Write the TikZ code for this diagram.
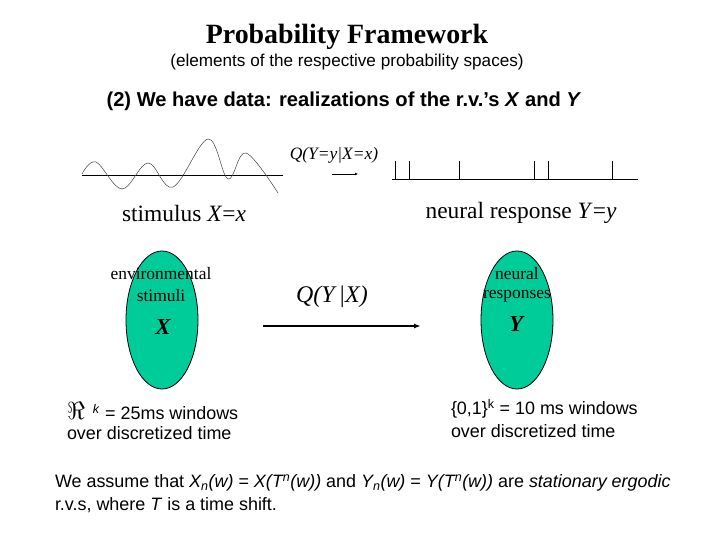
\documentclass[tikz,border=0pt]{standalone}
\usepackage{fontspec}
\setmainfont{Liberation Serif}
\setsansfont{Liberation Sans}
\usetikzlibrary{shapes.geometric,arrows.meta}
\definecolor{setgreen}{RGB}{0,204,153}
\tikzset{
  setoval/.style={ellipse, draw=black, line width=0.8bp, fill=setgreen, minimum width=72bp, minimum height=138bp, inner sep=0},
  txt/.style={inner sep=0, outer sep=0},
  sansA/.style={txt, font=\sffamily\fontsize{18}{21}\selectfont},
  serifL/.style={txt, font=\fontsize{23.5}{26}\selectfont},
  inner/.style={txt, font=\fontsize{17.5}{19}\selectfont},
  spike/.style={line width=0.8bp},
}
\begin{document}
\begin{tikzpicture}[x=1bp,y=-1bp]
\useasboundingbox (0,0) rectangle (720,540);
% titles
\node[txt, font=\bfseries\fontsize{28}{30}\selectfont] (title) at (347,37) {Probability Framework};
\node[txt, font=\sffamily\fontsize{17.2}{20}\selectfont] (sub) at (347,62) {(elements of the respective probability spaces)};
\node[txt, font=\sffamily\bfseries\fontsize{20.2}{24}\selectfont] (data) at (344,101) {(2) We have data: realizations of the r.v.’s \textit{X} and \textit{Y}};

% stimulus wave
\coordinate (wa) at (82,175);
\coordinate (wb) at (283,175);
\draw[line width=0.8bp] (wa) -- (wb);
\draw[line width=0.5bp, black!75] plot[smooth, tension=0.6] coordinates {(82,174) (96,162) (122,189) (148,163) (173,187) (208,139) (228,179) (246,153) (278,193)};

% small arrow and label
\coordinate (sa) at (332,174);
\coordinate (sb) at (358,174);
\draw[line width=0.6bp, -{Latex[length=3bp,width=3bp]}] (sa) -- (sb);
\node[txt, font=\itshape\fontsize{17.5}{20}\selectfont] (qyx) at (334,155) {Q(Y=y|X=x)};

% spike train
\coordinate (ta) at (392,179);
\coordinate (tb) at (638,179);
\draw[line width=0.8bp] (ta) -- (tb);
\foreach \s/\n in {395/a,409/b,459/c,534/d,548/e,612/f}{
  \coordinate (sp\n) at (\s,179);
  \draw[spike] (sp\n) -- ++(0,-18);
}

% labels under signals
\node[serifL] (stim) at (184,213) {stimulus \textit{X}=\textit{x}};
\node[serifL] (resp) at (521,213) {neural response \textit{Y}=\textit{y}};

% ellipses
\node[setoval] (ex) at (162,320) {};
\node[setoval] (ey) at (517,320) {};
\node[inner] (envt) at (161,274) {environmental};
\node[inner] (stimt) at (161,296) {stimuli};
\node[txt, font=\bfseries\itshape\fontsize{23}{24}\selectfont] (xl) at (163,327) {X};
\node[inner] (neut) at (517,274) {neural};
\node[inner] (respt) at (517,296) {responses};
\node[txt, font=\bfseries\itshape\fontsize{23}{24}\selectfont] (yl) at (516,324) {Y};

% main arrow
\coordinate (ma) at (263,326);
\coordinate (mb) at (421,326);
\draw[line width=1.6bp, -{Latex[length=7bp,width=5bp]}] (ma) -- (mb);
\node[txt, font=\itshape\fontsize{24}{26}\selectfont] (qlab) at (332,297) {Q(Y\,|X)};

% set descriptions
\node[sansA, anchor=west] (rk1) at (67,411) {{\fontsize{24}{24}\selectfont$\Re$}\hspace{8bp}\textsuperscript{\textit{k}} = 25ms windows};
\node[sansA, anchor=west] (rk2) at (67,433) {over discretized time};
\node[sansA, anchor=west] (bk1) at (451,409) {\{0,1\}\textsuperscript{k} = 10 ms windows};
\node[sansA, anchor=west] (bk2) at (451,431) {over discretized time};

% bottom paragraph
\node[txt, font=\sffamily\fontsize{18}{21}\selectfont, anchor=west] (p1) at (55,483) {We assume that \textit{X\textsubscript{n}(w)} = \textit{X(T\textsuperscript{n}(w))} and \textit{Y\textsubscript{n}(w)} = \textit{Y(T\textsuperscript{n}(w))} are \textit{stationary ergodic}};
\node[txt, font=\sffamily\fontsize{18}{21}\selectfont, anchor=west] (p2) at (55,505) {r.v.s, where \textit{T} is a time shift.};
\end{tikzpicture}
\end{document}
